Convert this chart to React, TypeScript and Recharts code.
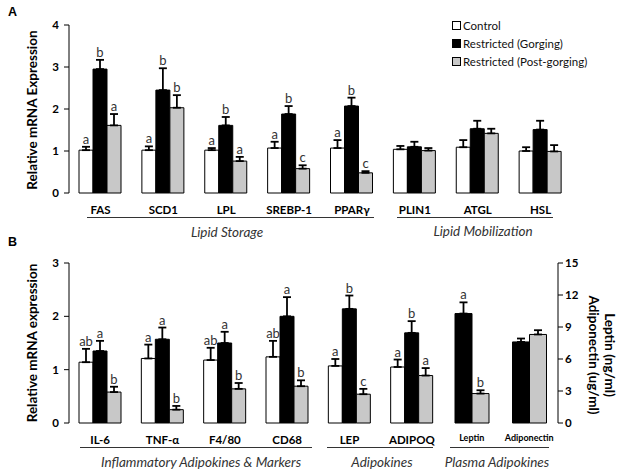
import React from "react";
import { BarChart, Bar, XAxis, YAxis, ErrorBar, LabelList, Legend } from "recharts";

const FONT = 'Lato, "Open Sans", sans-serif';
const INK = "#000000";

// series
const seriesKeys = ["ctrl", "gorg", "post"];
const seriesNames = ["Control", "Restricted (Gorging)", "Restricted (Post-gorging)"];
const seriesFills = ["#ffffff", "#000000", "#c8c8c8"];

// panel A - lipid storage / mobilization genes
const genesA = ["FAS", "SCD1", "LPL", "SREBP-1", "PPARγ", "PLIN1", "ATGL", "HSL"];
const ctrlA = [1.02, 1.02, 1.02, 1.07, 1.07, 1.04, 1.09, 1.0];
const ctrlErrA = [0.08, 0.09, 0.05, 0.15, 0.19, 0.08, 0.17, 0.09];
const gorgA = [2.95, 2.45, 1.61, 1.88, 2.07, 1.1, 1.53, 1.51];
const gorgErrA = [0.22, 0.52, 0.2, 0.19, 0.2, 0.12, 0.19, 0.21];
const postA = [1.61, 2.03, 0.76, 0.58, 0.48, 1.01, 1.42, 0.99];
const postErrA = [0.27, 0.3, 0.1, 0.08, 0.04, 0.06, 0.11, 0.15];
const ctrlLetA = ["a", "a", "a", "a", "a", "", "", ""];
const gorgLetA = ["b", "b", "b", "b", "b", "", "", ""];
const postLetA = ["a", "b", "a", "c", "c", "", "", ""];
const groupsA = ["Lipid Storage", "Lipid Mobilization"];

// panel B - inflammatory markers and adipokines (mRNA)
const genesB = ["IL-6", "TNF-α", "F4/80", "CD68", "LEP", "ADIPOQ"];
const ctrlB = [1.14, 1.21, 1.18, 1.24, 1.07, 1.05];
const ctrlErrB = [0.25, 0.26, 0.23, 0.3, 0.13, 0.14];
const gorgB = [1.35, 1.57, 1.5, 2.0, 2.14, 1.69];
const gorgErrB = [0.19, 0.22, 0.21, 0.36, 0.25, 0.22];
const postB = [0.58, 0.25, 0.64, 0.69, 0.54, 0.89];
const postErrB = [0.1, 0.07, 0.11, 0.11, 0.1, 0.14];
const ctrlLetB = ["ab", "a", "ab", "ab", "a", "a"];
const gorgLetB = ["a", "a", "a", "a", "b", "b"];
const postLetB = ["b", "b", "b", "b", "c", "a"];

// panel B - plasma adipokines (right axis)
const plasma = ["Leptin", "Adiponectin"];
const gorgP = [10.26, 7.6];
const gorgErrP = [1.05, 0.32];
const postP = [2.76, 8.3];
const postErrP = [0.31, 0.4];
const gorgLetP = ["a", ""];
const postLetP = ["b", ""];
const groupsB = ["Inflammatory Adipokines & Markers", "Adipokines", "Plasma Adipokines"];

type Row = Record<string, any>;

function buildRows(cats: string[], vals: Record<string, number[]>, errs: Record<string, number[]>): Row[] {
  return cats.map((cat, i) => {
    const r: Row = { cat };
    Object.keys(vals).forEach((k) => {
      r[k] = vals[k][i];
      r[k + "Err"] = [0, errs[k][i]]; // one-sided, upward only
    });
    return r;
  });
}

const dataA = buildRows(
  genesA,
  { ctrl: ctrlA, gorg: gorgA, post: postA },
  { ctrl: ctrlErrA, gorg: gorgErrA, post: postErrA }
);
const dataB = buildRows(
  genesB,
  { ctrl: ctrlB, gorg: gorgB, post: postB },
  { ctrl: ctrlErrB, gorg: gorgErrB, post: postErrB }
);
const dataP = buildRows(plasma, { gorg: gorgP, post: postP }, { gorg: gorgErrP, post: postErrP });

const bounds = (n: number) => Array.from({ length: n + 1 }, (_, i) => i);

const tickFont = { fontSize: 11.5, fontWeight: 700, fill: INK, fontFamily: FONT };

// significance letter sitting on top of the error bar
const letterContent = (letters: string[], errs: number[]) => (p: any) => {
  const vb = p.viewBox ?? p;
  const x = vb.x ?? p.x;
  const y = vb.y ?? p.y;
  const w = vb.width ?? p.width;
  const h = vb.height ?? p.height;
  const v = Number(p.value);
  const txt = letters[p.index];
  if (!txt || !v) return null;
  const top = y - (errs[p.index] * h) / v;
  return (
    <text x={x + w / 2} y={top - 3} textAnchor="middle" fontSize={13} fill="#333" fontFamily={FONT}>
      {txt}
    </text>
  );
};

const sideLabel = (text: string, dx: number, dy: number, angle: number) => (p: any) => {
  const vb = p.viewBox;
  const x = vb.x + dx;
  const y = vb.y + vb.height / 2 + dy;
  return (
    <text
      x={x}
      y={y}
      transform={`rotate(${angle} ${x} ${y})`}
      textAnchor="middle"
      dominantBaseline="central"
      fontSize={13.5}
      fontWeight={700}
      fill={INK}
      fontFamily={FONT}
    >
      {text}
    </text>
  );
};

function bars(
  keys: string[],
  letters: Record<string, string[]>,
  errs: Record<string, number[]>,
  yId: string,
  size: number
) {
  return keys.map((k) => {
    const i = seriesKeys.indexOf(k);
    return (
      <Bar
        key={k}
        dataKey={k}
        name={seriesNames[i]}
        xAxisId="cat"
        yAxisId={yId}
        fill={seriesFills[i]}
        stroke={INK}
        strokeWidth={1}
        barSize={size}
        isAnimationActive={false}
      >
        <ErrorBar dataKey={k + "Err"} width={4} stroke={INK} strokeWidth={1.8} direction="y" isAnimationActive={false} />
        <LabelList dataKey={k} content={letterContent(letters[k], errs[k])} />
      </Bar>
    );
  });
}

function renderLegend() {
  return (
    <div style={{ fontFamily: FONT, fontSize: 11.5, color: "#111" }}>
      {seriesNames.map((n, i) => (
        <div key={n} style={{ display: "flex", alignItems: "center", height: 18 }}>
          <span
            style={{
              display: "inline-block",
              width: 7,
              height: 7,
              border: "1px solid #000",
              background: seriesFills[i],
              marginRight: 2,
            }}
          />
          <span>{n}</span>
        </div>
      ))}
    </div>
  );
}

function GroupLabel({ text, cx, y }: { text: string; cx: number; y: number }) {
  return (
    <div
      style={{
        position: "absolute",
        left: cx - 150,
        width: 300,
        top: y - 9,
        lineHeight: "18px",
        textAlign: "center",
        fontStyle: "italic",
        fontSize: 13.5,
        color: "#333",
        fontFamily: FONT,
      }}
    >
      {text}
    </div>
  );
}

function Rule({ x1, x2, y }: { x1: number; x2: number; y: number }) {
  return <div style={{ position: "absolute", left: x1, top: y, width: x2 - x1, height: 1, background: "#333" }} />;
}

const panelLetter: React.CSSProperties = {
  position: "absolute",
  fontFamily: '"Liberation Sans", Arial, sans-serif',
  fontWeight: 700,
  fontSize: 12.5,
  lineHeight: "14px",
};

export default function App() {
  const lettersA = { ctrl: ctrlLetA, gorg: gorgLetA, post: postLetA };
  const errsA = { ctrl: ctrlErrA, gorg: gorgErrA, post: postErrA };
  const lettersB = { ctrl: ctrlLetB, gorg: gorgLetB, post: postLetB };
  const errsB = { ctrl: ctrlErrB, gorg: gorgErrB, post: postErrB };
  const lettersP = { gorg: gorgLetP, post: postLetP };
  const errsP = { gorg: gorgErrP, post: postErrP };

  return (
    <div style={{ position: "absolute", left: 0, top: 0, width: 621, height: 473, background: "#fff", overflow: "hidden" }}>
      <div style={{ ...panelLetter, left: 8, top: 5 }}>A</div>
      <div style={{ ...panelLetter, left: 8, top: 235 }}>B</div>

      {/* Panel A */}
      <div style={{ position: "absolute", left: 0, top: 0 }}>
        <BarChart width={621} height={240} data={dataA} margin={{ top: 25, right: 49, left: 0, bottom: 17 }} barGap={0}>
          <XAxis
            xAxisId="grid"
            type="number"
            domain={[0, genesA.length]}
            ticks={bounds(genesA.length)}
            tick={false}
            tickSize={4}
            height={0}
            allowDataOverflow
            axisLine={{ stroke: INK }}
            tickLine={{ stroke: INK }}
          />
          <XAxis
            xAxisId="cat"
            dataKey="cat"
            height={30}
            interval={0}
            axisLine={false}
            tickLine={false}
            tickSize={0}
            tickMargin={13}
            tick={tickFont}
          />
          <YAxis
            yAxisId="l"
            width={69}
            domain={[0, 4]}
            ticks={[0, 1, 2, 3, 4]}
            tickSize={5}
            tickMargin={5}
            tick={tickFont}
            axisLine={{ stroke: INK }}
            tickLine={{ stroke: INK }}
            label={sideLabel("Relative mRNA Expression", 32, 1, -90)}
          />
          <Legend
            layout="vertical"
            align="center"
            verticalAlign="middle"
            content={renderLegend}
            wrapperStyle={{ left: 452, top: 16, width: 165, height: 60 }}
          />
          {bars(seriesKeys, lettersA, errsA, "l", 14)}
        </BarChart>
      </div>
      <Rule x1={87} x2={374} y={217} />
      <Rule x1={397} x2={553} y={217} />
      <GroupLabel text={groupsA[0]} cx={227} y={232} />
      <GroupLabel text={groupsA[1]} cx={483} y={231} />

      {/* Panel B, mRNA */}
      <div style={{ position: "absolute", left: 0, top: 240 }}>
        <BarChart width={443} height={233} data={dataB} margin={{ top: 23, right: 0, left: 0, bottom: 20 }} barGap={0}>
          <XAxis
            xAxisId="grid"
            type="number"
            domain={[0, genesB.length]}
            ticks={bounds(genesB.length)}
            tick={false}
            tickSize={4}
            height={0}
            allowDataOverflow
            axisLine={{ stroke: INK }}
            tickLine={{ stroke: INK }}
          />
          <XAxis
            xAxisId="cat"
            dataKey="cat"
            height={30}
            interval={0}
            axisLine={false}
            tickLine={false}
            tickSize={0}
            tickMargin={13}
            tick={tickFont}
          />
          <YAxis
            yAxisId="l"
            width={69}
            domain={[0, 3]}
            ticks={[0, 1, 2, 3]}
            tickSize={5}
            tickMargin={5}
            tick={tickFont}
            axisLine={{ stroke: INK }}
            tickLine={{ stroke: INK }}
            label={sideLabel("Relative mRNA expression", 32, 0, -90)}
          />
          {bars(seriesKeys, lettersB, errsB, "l", 14)}
        </BarChart>
      </div>

      {/* Panel B, plasma */}
      <div style={{ position: "absolute", left: 443, top: 240 }}>
        <BarChart width={178} height={233} data={dataP} margin={{ top: 23, right: 0, left: 0, bottom: 20 }} barGap={0}>
          <XAxis
            xAxisId="grid"
            type="number"
            domain={[0, plasma.length]}
            ticks={bounds(plasma.length)}
            tick={false}
            tickSize={4}
            height={0}
            allowDataOverflow
            axisLine={{ stroke: INK }}
            tickLine={{ stroke: INK }}
          />
          <XAxis
            xAxisId="cat"
            dataKey="cat"
            height={30}
            interval={0}
            axisLine={false}
            tickLine={false}
            tickSize={0}
            tickMargin={12}
            tick={{ ...tickFont, fontSize: 9 }}
          />
          <YAxis
            yAxisId="r"
            orientation="right"
            width={63}
            domain={[0, 15]}
            ticks={[0, 3, 6, 9, 12, 15]}
            tickSize={5}
            tickMargin={2}
            tick={tickFont}
            axisLine={{ stroke: INK }}
            tickLine={{ stroke: INK }}
            label={(p: any) => (
              <g>
                {sideLabel("Adiponectin (ug/ml)", 36, 12, 90)(p)}
                {sideLabel("Leptin (ng/ml)", 52, 12, 90)(p)}
              </g>
            )}
          />
          {bars(["gorg", "post"], lettersP, errsP, "r", 17)}
        </BarChart>
      </div>
      <Rule x1={80} x2={312} y={447} />
      <Rule x1={327} x2={433} y={447} />
      <Rule x1={450} x2={549} y={447} />
      <GroupLabel text={groupsB[0]} cx={201} y={462} />
      <GroupLabel text={groupsB[1]} cx={382} y={462} />
      <GroupLabel text={groupsB[2]} cx={497} y={462} />
    </div>
  );
}
